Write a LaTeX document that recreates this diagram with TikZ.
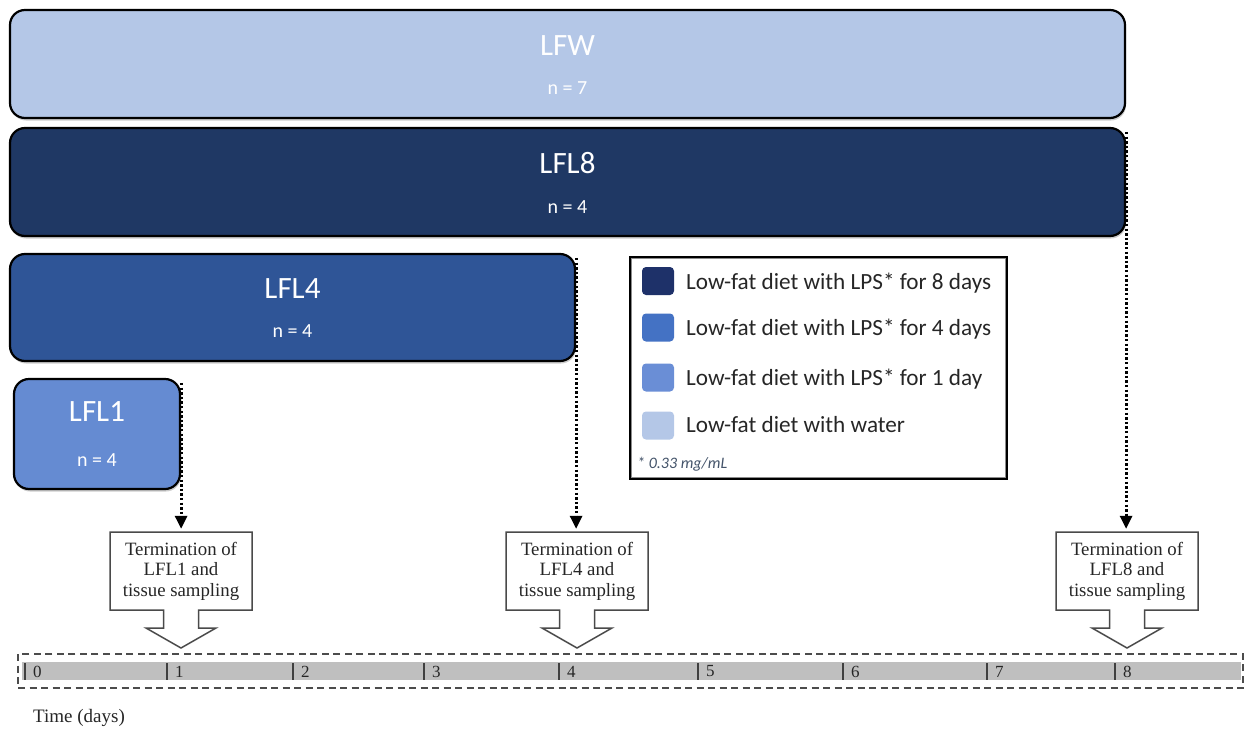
\documentclass[tikz,border=0pt]{standalone}
\usepackage{fontspec}
\setmainfont{Liberation Serif}
\newfontfamily\carlito{Carlito}
\usetikzlibrary{arrows.meta,calc,shadows}

\definecolor{waterblue}{HTML}{B4C7E7}
\definecolor{eightblue}{HTML}{1F3864}
\definecolor{fourblue}{HTML}{2F5597}
\definecolor{oneblue}{HTML}{658BD2}
\definecolor{keyeight}{HTML}{1E3169}
\definecolor{keyfour}{HTML}{4472C4}
\definecolor{keyone}{HTML}{6A8ED6}
\definecolor{notegray}{HTML}{44546A}
\definecolor{keytext}{HTML}{262626}
\definecolor{callgray}{HTML}{4A4A4A}
\definecolor{daybar}{HTML}{BFBFBF}

\begin{document}
\begin{tikzpicture}[x=1pt,y=-1pt,
  groupbar/.style={draw=black, line width=2.2pt, rounded corners=15pt,
    inner sep=0pt,
    drop shadow={shadow xshift=1pt, shadow yshift=-2.5pt, fill=black, opacity=0.2}},
  grouptitle/.style={text=white, inner sep=0pt, font=\carlito\fontsize{31}{31}\selectfont},
  groupsize/.style={text=white, inner sep=0pt, font=\carlito\fontsize{20}{20}\selectfont},
  endline/.style={line width=3pt, dash pattern=on 2.4pt off 2.2pt,
    -{Triangle[width=12pt,length=13pt]}, shorten >=3pt},
  termtext/.style={minimum width=142pt, minimum height=78pt, inner sep=0pt,
    align=center, text=keytext,
    font=\fontsize{18.8}{20.5}\selectfont},
  termline/.style={draw=callgray, line width=1.5pt, line join=miter, fill=white},
  swatch/.style={minimum width=32pt, minimum height=28pt, inner sep=0pt, rounded corners=4pt},
  keylabel/.style={anchor=base west, inner sep=0pt, text=keytext,
    font=\carlito\fontsize{23.2}{23.2}\selectfont},
  daylabel/.style={anchor=west, inner sep=0pt, text=black!85,
    font=\fontsize{17}{17}\selectfont},
  daytick/.style={draw=black!75, line width=1.8pt}
]
\useasboundingbox (0,0) rectangle (1245,731);

% treatment groups
\node[groupbar, fill=waterblue, minimum width=1115pt, minimum height=108pt] (lfw)  at (567.5,64)  {};
\node[groupbar, fill=eightblue, minimum width=1115pt, minimum height=108pt] (lfl8) at (567.5,182) {};
\node[groupbar, fill=fourblue,  minimum width=565pt,  minimum height=107pt] (lfl4) at (292.5,307.5) {};
\node[groupbar, fill=oneblue,   minimum width=166pt,  minimum height=110pt] (lfl1) at (97,434) {};

\node[grouptitle] (lfw-t)  at ($(lfw.center)+(0,-18)$)  {LFW};
\node[groupsize]  (lfw-n)  at ($(lfw.center)+(0,24)$)   {n = 7};
\node[grouptitle] (lfl8-t) at ($(lfl8.center)+(0,-19)$) {LFL8};
\node[groupsize]  (lfl8-n) at ($(lfl8.center)+(0,25)$)  {n = 4};
\node[grouptitle] (lfl4-t) at ($(lfl4.center)+(0,-18.5)$) {LFL4};
\node[groupsize]  (lfl4-n) at ($(lfl4.center)+(0,23.5)$)  {n = 4};
\node[grouptitle] (lfl1-t) at ($(lfl1.center)+(0,-22)$) {LFL1};
\node[groupsize]  (lfl1-n) at ($(lfl1.center)+(0,26)$)  {n = 4};

% legend
\node[draw=black, line width=2pt, minimum width=377pt, minimum height=222pt, inner sep=0pt] (key) at (818.5,368) {};
\draw[black!45, line width=0.8pt] ($(key.north west)+(2.6,2.6)$) rectangle ($(key.south east)+(-2.6,-2.6)$);
\node[swatch, fill=keyeight] (sw8) at (658,281) {};
\node[swatch, fill=keyfour]  (sw4) at (658,327.5) {};
\node[swatch, fill=keyone]   (sw1) at (658,377.5) {};
\node[swatch, fill=waterblue] (sww) at (658,425.5) {};
\node[keylabel] (k8) at (686,289) {Low-fat diet with LPS* for 8 days};
\node[keylabel] (k4) at (686,335.5) {Low-fat diet with LPS* for 4 days};
\node[keylabel] (k1) at (686,385) {Low-fat diet with LPS* for 1 day};
\node[keylabel] (kw) at (686,432) {Low-fat diet with water};
\node[anchor=base west, inner sep=0pt, text=notegray,
      font=\carlito\itshape\fontsize{16}{16}\selectfont] (note) at (637,468) {* 0.33 mg/mL};

% termination call-outs
\foreach \name/\cx/\grp in {t1/181/LFL1, t4/577/LFL4, t8/1127/LFL8}{
  \coordinate (\name-c) at (\cx,571);
  \draw[termline] ($(\name-c)+(-71,-39)$) -- ($(\name-c)+(71,-39)$) -- ($(\name-c)+(71,39)$)
    -- ($(\name-c)+(17.5,39)$) -- ($(\name-c)+(17.5,57)$) -- ($(\name-c)+(35,57)$)
    -- ($(\name-c)+(0,77)$) -- ($(\name-c)+(-35,57)$) -- ($(\name-c)+(-17.5,57)$)
    -- ($(\name-c)+(-17.5,39)$) -- ($(\name-c)+(-71,39)$) -- cycle;
  \node[termtext] (\name) at (\name-c) {Termination of\\\grp{} and\\tissue sampling};
}

% end-of-treatment markers
\draw[endline] ($(lfl1.north east)+(0,5)$) -- (lfl1.north east |- t1.north);
\draw[endline] ($(lfl4.north east)+(0,5)$) -- (lfl4.north east |- t4.north);
\draw[endline] ($(lfl8.north east)+(0,5)$) -- (lfl8.north east |- t8.north);

% time axis
\node[fill=daybar, minimum width=1219pt, minimum height=18pt, inner sep=0pt] (axis) at (631.5,671) {};
\node[draw=black!70, line width=1.8pt, dash pattern=on 7pt off 4.5pt,
      minimum width=1225pt, minimum height=34pt, inner sep=0pt] (axisframe) at (630.5,671) {};
\foreach \d/\tx in {0/25, 1/167, 2/293, 3/424, 4/559, 5/698, 6/843, 7/987, 8/1115}{
  \draw[daytick] (\tx,663) -- (\tx,680);
  \node[daylabel] (d\d) at (\tx+8,671.5) {\d};
}
\node[anchor=west, inner sep=0pt, font=\fontsize{19}{19}\selectfont, text=black!85] (xlabel) at (33,718) {Time (days)};
\end{tikzpicture}
\end{document}
